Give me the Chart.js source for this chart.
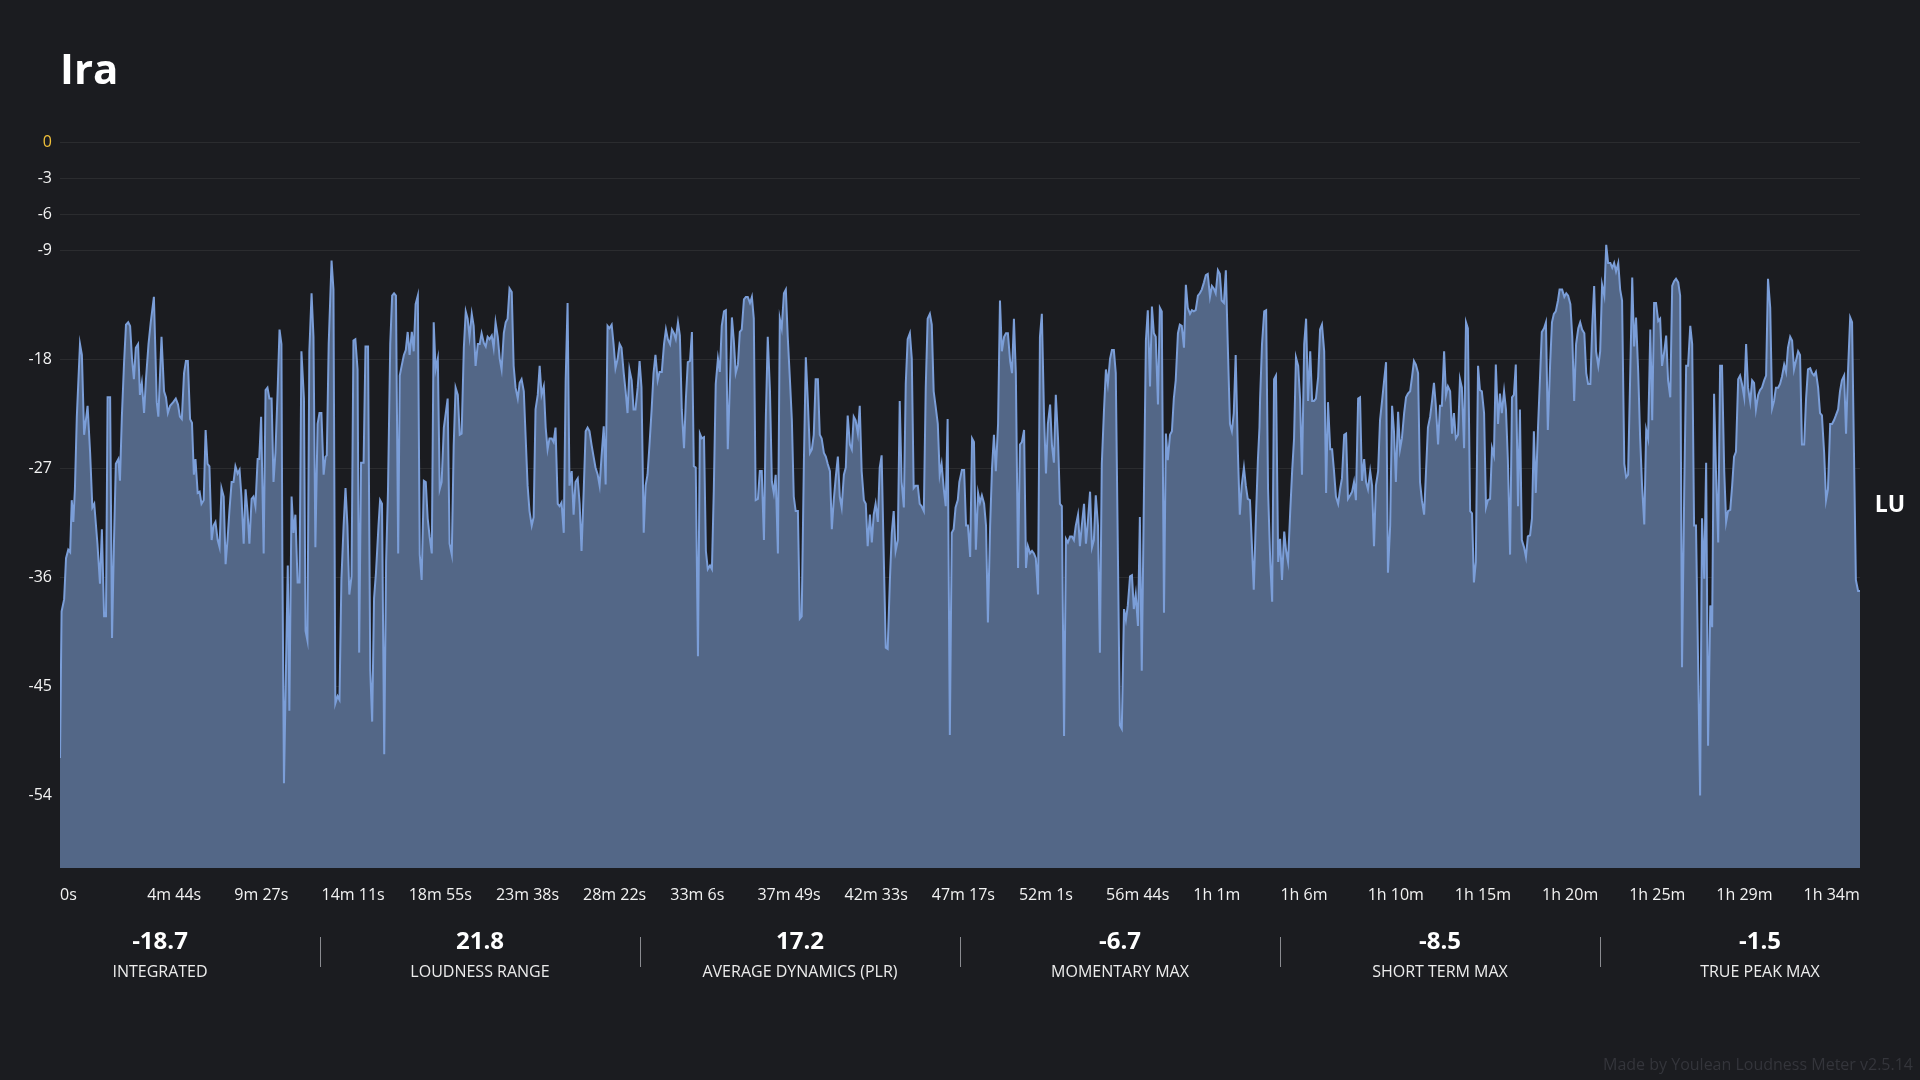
<!DOCTYPE html>
<html>
<head>
<meta charset="utf-8">
<script src="https://cdn.jsdelivr.net/npm/chart.js@4.4.1/dist/chart.umd.min.js"></script>
<style>
  body { margin: 0; background: #1b1c20; font-family: "Open Sans", "Noto Sans", sans-serif; }
  #wrap { position: relative; width: 1920px; height: 1080px; overflow: hidden; }
  #c { position: absolute; left: 0; top: 0; }
  .title { position: absolute; left: 60px; top: 43px; font-size: 42px; line-height: 50px; font-weight: 700; color: #fff; }
  .unit { position: absolute; left: 1860px; width: 60px; top: 488px; line-height: 30px; font-size: 23px; font-weight: 700; color: #fff; text-align: center; }
  .stat { position: absolute; top: 922px; width: 320px; text-align: center; color: #fff; }
  .stat .val { font-size: 24px; font-weight: 700; line-height: 36px; }
  .stat .lab { font-size: 16px; line-height: 22px; margin-top: 2px; color: #ececec; }
  .sep { position: absolute; top: 937px; width: 1px; height: 30px; background: #8a8b90; }
  .credit { position: absolute; right: 7px; top: 1053px; font-size: 16px; line-height: 22px; color: #34353b; }
</style>
</head>
<body>
<div id="wrap">
  <canvas id="c" width="1920" height="1080"></canvas>
  <div class="title">Ira</div>
  <div class="unit">LU</div>
  <div id="stats"></div>
  <div class="credit">Made by Youlean Loudness Meter v2.5.14</div>
</div>
<script>
// loudness history, [seconds, LU] in six chunks
const part1 = [[0,-50.9],[5,-38.8],[13,-37.8],[19,-34.4],[26,-33.7],[32,-33.9],[37,-29.6],[42,-31.4],[47,-28.7],[53,-22.7],[63,-16.7],[69,-17.6],[76,-24.2],[87,-21.8],[95,-25.7],[102,-30.2],[108,-29.9],[118,-33.2],[126,-36.5],[132,-32.0],[139,-39.2],[145,-39.2],[150,-21.1],[158,-21.1],[164,-41.0],[170,-33.2],[176,-26.6],[184,-26.2],[189,-28.0],[195,-22.7],[202,-18.2],[208,-15.1],[215,-14.9],[221,-15.2],[227,-17.9],[233,-19.6],[239,-17.0],[246,-16.7],[252,-20.9],[258,-19.9],[265,-22.4],[271,-19.6],[279,-16.7],[286,-14.9],[296,-12.8],[305,-21.5],[310,-22.7],[320,-16.1],[328,-20.6],[334,-21.1],[340,-22.4],[347,-21.8],[357,-21.5],[365,-21.2],[372,-21.7],[378,-22.7],[384,-22.9],[391,-19.1],[397,-18.1],[403,-18.1],[410,-22.9],[416,-23.2],[422,-27.5],[427,-26.2],[434,-29.0],[440,-28.9],[446,-29.9],[453,-29.6],[459,-23.8],[465,-26.6],[471,-26.8],[478,-32.9],[484,-31.7],[490,-31.4],[497,-32.9],[503,-33.5],[509,-28.6],[516,-29.3],[522,-34.9],[528,-32.9],[534,-30.5],[541,-28.1],[547,-28.1],[553,-26.8],[560,-27.4],[566,-27.1],[572,-29.3],[579,-33.2],[585,-28.7],[591,-30.5],[597,-33.2],[604,-29.5],[610,-29.3],[616,-30.1],[623,-26.2],[628,-26.2],[634,-22.7],[642,-34.0],[648,-20.5],[654,-20.3],[660,-21.2],[667,-21.2],[673,-28.1],[679,-25.7],[686,-20.6],[692,-15.5],[698,-16.7],[701,-34.7],[706,-53.0],[718,-35.0],[723,-47.0],[730,-29.3],[736,-32.3],[742,-30.8],[749,-36.4],[755,-36.4],[761,-17.3],[769,-21.2],[774,-40.4],[780,-41.2],[786,-17.3],[793,-12.5],[799,-16.1],[805,-33.5],[812,-23.3],[818,-22.4],[824,-22.4],[831,-27.5],[837,-26.0],[841,-25.9],[847,-16.7],[856,-9.8],[862,-12.2],[868,-46.4],[875,-45.8],[881,-46.1],[887,-36.2],[894,-31.7],[900,-28.6],[906,-31.7],[912,-37.4],[919,-35.9],[925,-16.4],[931,-16.3],[938,-18.8],[943,-42.2]];
const part2 = [[949,-26.5],[957,-26.5],[963,-16.9],[971,-16.9],[978,-43.7],[984,-47.9],[990,-37.7],[996,-35.6],[1004,-31.7],[1009,-29.6],[1015,-29.9],[1022,-50.6],[1028,-34.7],[1034,-28.7],[1041,-16.7],[1047,-12.7],[1053,-12.5],[1059,-12.7],[1066,-34.0],[1071,-19.3],[1077,-18.5],[1084,-17.6],[1090,-17.2],[1096,-15.7],[1102,-17.6],[1109,-15.7],[1115,-17.3],[1121,-13.4],[1128,-12.7],[1134,-34.1],[1140,-36.2],[1147,-28.0],[1153,-28.1],[1159,-31.1],[1165,-32.6],[1172,-34.0],[1178,-14.9],[1184,-18.8],[1191,-17.9],[1197,-28.7],[1203,-28.1],[1210,-23.6],[1216,-22.4],[1222,-21.2],[1228,-33.2],[1235,-34.1],[1241,-25.1],[1247,-20.3],[1254,-20.9],[1260,-24.2],[1266,-24.1],[1273,-17.0],[1279,-14.0],[1285,-14.6],[1291,-16.1],[1298,-14.2],[1304,-15.2],[1310,-18.5],[1317,-16.7],[1323,-16.7],[1329,-15.8],[1336,-16.6],[1342,-16.9],[1348,-16.1],[1354,-16.3],[1361,-16.0],[1367,-17.0],[1373,-14.9],[1380,-16.1],[1386,-17.9],[1392,-18.8],[1399,-15.8],[1405,-14.9],[1411,-14.6],[1417,-12.1],[1424,-12.4],[1430,-18.5],[1436,-20.3],[1443,-21.2],[1449,-19.9],[1455,-19.6],[1462,-20.6],[1468,-24.5],[1474,-28.4],[1480,-30.5],[1487,-31.7],[1493,-31.0],[1499,-22.1],[1506,-20.9],[1512,-18.5],[1518,-20.9],[1525,-20.2],[1531,-23.6],[1537,-25.4],[1543,-24.5],[1550,-24.5],[1556,-24.8],[1562,-23.6],[1569,-29.9],[1575,-30.1],[1581,-29.8],[1588,-32.3],[1594,-19.7],[1600,-13.3],[1606,-28.4],[1613,-27.2],[1619,-30.8],[1625,-28.1],[1632,-27.8],[1638,-29.9],[1644,-33.8],[1651,-28.7],[1657,-23.9],[1663,-23.6],[1669,-23.9],[1676,-25.1],[1682,-26.0],[1688,-26.9],[1695,-27.5],[1701,-28.4],[1707,-26.0],[1714,-23.5],[1720,-28.3],[1726,-15.2],[1732,-15.4],[1739,-15.1],[1745,-16.7],[1751,-18.7],[1758,-17.9],[1764,-16.7],[1770,-17.0],[1777,-19.1],[1783,-20.6],[1789,-22.4],[1795,-18.8],[1802,-19.7],[1808,-22.1],[1814,-22.1],[1821,-20.3],[1827,-18.1],[1833,-20.3],[1840,-32.3],[1846,-28.4],[1852,-27.5],[1858,-25.1],[1865,-22.1],[1871,-19.1],[1877,-17.6],[1884,-19.7],[1890,-19.0]];
const part3 = [[1897,-19.0],[1904,-16.7],[1910,-15.5],[1916,-16.3],[1923,-16.7],[1929,-15.5],[1935,-15.8],[1941,-16.3],[1948,-14.9],[1954,-16.0],[1960,-22.1],[1967,-25.3],[1973,-21.2],[1979,-18.2],[1986,-18.1],[1992,-15.7],[1998,-26.8],[2004,-26.9],[2011,-42.5],[2017,-24.1],[2023,-24.5],[2030,-24.4],[2036,-33.8],[2042,-35.3],[2049,-35.0],[2055,-35.3],[2061,-28.7],[2067,-20.0],[2074,-17.9],[2080,-19.0],[2086,-15.2],[2093,-14.0],[2099,-13.9],[2105,-25.4],[2112,-19.7],[2118,-14.5],[2124,-16.4],[2130,-19.1],[2137,-18.4],[2143,-15.7],[2149,-15.5],[2156,-13.0],[2162,-12.8],[2168,-12.8],[2175,-13.3],[2181,-12.8],[2187,-14.6],[2193,-29.6],[2200,-29.5],[2206,-27.2],[2212,-27.2],[2219,-32.9],[2225,-22.7],[2231,-16.1],[2238,-20.6],[2244,-28.1],[2250,-29.0],[2256,-27.5],[2263,-34.0],[2269,-14.6],[2275,-15.4],[2282,-12.5],[2288,-12.2],[2294,-16.1],[2301,-19.7],[2307,-23.0],[2313,-29.3],[2319,-30.5],[2326,-30.5],[2332,-39.4],[2338,-39.2],[2345,-26.3],[2351,-17.8],[2357,-21.2],[2364,-25.7],[2370,-25.4],[2376,-24.2],[2382,-19.6],[2389,-19.6],[2395,-24.2],[2401,-24.5],[2408,-25.7],[2414,-26.0],[2420,-26.6],[2427,-27.2],[2433,-32.0],[2439,-29.6],[2445,-27.8],[2452,-26.0],[2458,-29.3],[2464,-30.2],[2471,-27.5],[2477,-26.9],[2483,-22.6],[2490,-25.0],[2496,-25.4],[2502,-22.7],[2508,-23.0],[2515,-24.1],[2521,-21.8],[2527,-27.2],[2534,-29.6],[2540,-29.9],[2546,-33.4],[2553,-30.8],[2559,-33.1],[2565,-30.8],[2571,-29.9],[2578,-31.4],[2584,-26.9],[2590,-25.9],[2597,-34.7],[2603,-41.8],[2609,-41.9],[2616,-36.2],[2622,-32.3],[2628,-30.5],[2634,-33.8],[2641,-32.9],[2647,-21.4],[2653,-28.1],[2660,-30.2],[2666,-20.0],[2672,-16.3],[2679,-15.8],[2685,-17.9],[2691,-28.6],[2697,-28.4],[2704,-28.4],[2710,-29.9],[2716,-30.1],[2723,-30.5],[2729,-20.3],[2735,-14.6],[2742,-14.2],[2748,-15.1],[2754,-20.6],[2760,-21.8],[2767,-23.3],[2773,-27.5],[2779,-26.6],[2786,-28.7],[2792,-30.1],[2798,-22.9],[2805,-49.0],[2811,-32.3],[2817,-32.0],[2823,-30.2],[2830,-29.6],[2835,-28.1]];
const part4 = [[2843,-27.1],[2850,-27.1],[2856,-31.7],[2862,-31.7],[2869,-34.3],[2875,-24.5],[2881,-24.8],[2887,-33.7],[2894,-29.0],[2900,-29.8],[2906,-29.2],[2913,-29.9],[2919,-31.7],[2925,-39.7],[2932,-31.7],[2938,-26.9],[2944,-24.2],[2950,-27.2],[2957,-23.3],[2963,-13.1],[2969,-17.3],[2976,-16.1],[2982,-15.8],[2988,-15.8],[2995,-18.1],[3001,-19.1],[3007,-14.6],[3013,-19.1],[3020,-35.2],[3026,-25.0],[3032,-24.8],[3039,-23.8],[3045,-35.2],[3051,-33.4],[3058,-34.0],[3064,-33.8],[3070,-34.0],[3076,-34.4],[3083,-37.4],[3089,-16.1],[3095,-14.2],[3102,-22.7],[3108,-27.4],[3114,-23.3],[3121,-21.7],[3127,-25.1],[3133,-26.5],[3139,-20.9],[3146,-24.5],[3152,-29.9],[3158,-30.1],[3165,-49.1],[3171,-32.8],[3177,-33.1],[3184,-32.6],[3190,-32.6],[3196,-32.9],[3202,-31.7],[3209,-30.8],[3215,-33.4],[3221,-31.7],[3228,-29.9],[3234,-33.2],[3240,-31.4],[3247,-28.9],[3253,-33.5],[3259,-32.9],[3265,-29.2],[3272,-31.7],[3278,-42.2],[3284,-26.6],[3291,-22.1],[3297,-18.8],[3303,-20.0],[3310,-17.9],[3316,-17.2],[3322,-17.2],[3328,-19.1],[3335,-34.7],[3341,-48.2],[3347,-48.5],[3354,-38.6],[3360,-39.5],[3366,-38.3],[3373,-35.9],[3379,-35.8],[3385,-38.6],[3391,-37.4],[3398,-40.0],[3404,-31.0],[3410,-43.7],[3417,-28.7],[3423,-16.4],[3429,-13.9],[3436,-20.2],[3442,-13.6],[3448,-15.8],[3454,-16.1],[3461,-21.7],[3467,-13.7],[3473,-14.0],[3480,-38.9],[3486,-24.1],[3492,-26.3],[3499,-24.2],[3505,-23.9],[3511,-21.2],[3517,-19.7],[3524,-15.8],[3530,-15.1],[3536,-15.2],[3543,-17.0],[3549,-11.8],[3555,-13.7],[3562,-14.2],[3568,-13.9],[3574,-14.0],[3580,-13.9],[3587,-12.7],[3593,-12.5],[3599,-12.2],[3606,-11.6],[3612,-11.0],[3618,-10.9],[3625,-12.8],[3631,-11.9],[3637,-12.1],[3643,-12.5],[3650,-10.6],[3656,-10.9],[3662,-13.1],[3669,-13.3],[3675,-10.6],[3681,-16.7],[3688,-23.3],[3694,-23.9],[3700,-22.4],[3706,-17.6],[3713,-25.7],[3719,-30.8],[3725,-28.4],[3732,-26.9],[3738,-28.4],[3744,-29.5],[3751,-29.6],[3757,-33.2],[3763,-37.0],[3769,-31.7],[3776,-26.3],[3781,-23.6]];
const part5 = [[3783,-21.2],[3789,-16.7],[3796,-14.0],[3802,-13.9],[3808,-28.7],[3815,-34.7],[3821,-38.0],[3827,-19.6],[3833,-19.3],[3840,-34.7],[3846,-32.8],[3852,-36.2],[3859,-32.2],[3865,-33.8],[3871,-34.7],[3878,-30.5],[3884,-27.2],[3890,-24.5],[3896,-17.8],[3903,-18.5],[3909,-21.2],[3915,-27.5],[3922,-16.7],[3928,-14.6],[3934,-21.4],[3941,-17.3],[3947,-21.4],[3953,-21.4],[3959,-21.2],[3966,-19.4],[3972,-15.5],[3978,-15.1],[3985,-17.3],[3991,-29.0],[3997,-21.5],[4004,-25.4],[4010,-25.4],[4016,-27.2],[4022,-29.3],[4029,-29.9],[4035,-28.7],[4041,-27.8],[4048,-24.2],[4054,-24.1],[4060,-29.5],[4067,-29.2],[4073,-28.9],[4079,-28.1],[4085,-29.6],[4092,-21.2],[4098,-21.1],[4104,-28.0],[4111,-26.2],[4117,-28.1],[4123,-28.7],[4130,-27.2],[4136,-28.4],[4142,-33.4],[4148,-28.4],[4155,-27.2],[4161,-23.0],[4167,-21.5],[4174,-19.7],[4180,-18.2],[4186,-35.6],[4193,-31.7],[4199,-21.8],[4205,-23.9],[4211,-28.1],[4218,-22.3],[4224,-25.4],[4230,-24.5],[4237,-22.4],[4243,-21.1],[4249,-20.8],[4256,-20.6],[4262,-19.4],[4268,-18.1],[4274,-18.4],[4281,-19.1],[4287,-28.1],[4293,-29.6],[4300,-30.8],[4306,-27.2],[4312,-23.6],[4319,-22.7],[4325,-21.4],[4331,-19.9],[4337,-21.8],[4344,-25.0],[4350,-21.8],[4356,-21.8],[4363,-17.3],[4369,-20.9],[4375,-20.2],[4382,-20.6],[4388,-24.1],[4394,-22.4],[4400,-24.5],[4407,-24.2],[4413,-19.6],[4419,-20.3],[4426,-25.3],[4432,-14.9],[4438,-15.4],[4445,-30.5],[4451,-30.7],[4457,-36.4],[4463,-34.7],[4470,-18.5],[4476,-20.5],[4482,-20.6],[4489,-22.4],[4495,-30.2],[4501,-29.6],[4508,-29.5],[4514,-25.3],[4520,-25.9],[4526,-18.4],[4533,-23.3],[4539,-20.8],[4545,-22.4],[4552,-20.6],[4558,-22.1],[4564,-26.3],[4571,-34.1],[4577,-21.1],[4583,-20.9],[4589,-18.4],[4596,-30.1],[4602,-22.1],[4608,-32.9],[4615,-33.5],[4621,-34.3],[4627,-32.6],[4634,-32.5],[4640,-31.1],[4646,-23.9],[4652,-29.0],[4659,-23.6],[4665,-19.7],[4671,-15.7],[4678,-15.4],[4684,-14.9],[4690,-23.8],[4697,-18.5],[4703,-14.9],[4709,-14.2],[4715,-14.0],[4722,-13.1],[4727,-12.2]];
const part6 = [[4735,-12.2],[4742,-12.8],[4748,-12.5],[4754,-12.7],[4761,-13.4],[4767,-16.1],[4773,-21.4],[4779,-16.7],[4786,-15.4],[4792,-14.9],[4798,-15.5],[4805,-15.8],[4811,-19.1],[4817,-20.0],[4824,-20.0],[4830,-15.2],[4836,-11.9],[4842,-17.3],[4849,-18.5],[4855,-17.3],[4861,-11.8],[4868,-12.7],[4874,-8.5],[4880,-10.0],[4887,-10.0],[4893,-10.4],[4899,-10.0],[4905,-10.7],[4912,-10.0],[4918,-12.2],[4924,-13.1],[4931,-26.6],[4937,-27.7],[4943,-27.5],[4950,-18.8],[4956,-11.2],[4962,-16.9],[4968,-14.5],[4975,-19.1],[4981,-24.5],[4987,-28.4],[4994,-31.6],[5000,-23.8],[5006,-24.5],[5013,-15.5],[5019,-23.0],[5025,-13.3],[5031,-13.3],[5038,-14.8],[5044,-14.6],[5050,-18.5],[5057,-17.3],[5063,-16.0],[5069,-19.7],[5076,-21.1],[5082,-11.9],[5088,-11.5],[5094,-11.3],[5101,-11.6],[5107,-12.7],[5113,-43.4],[5120,-28.7],[5126,-18.5],[5132,-18.5],[5139,-15.2],[5145,-16.7],[5151,-31.7],[5157,-31.7],[5164,-43.7],[5170,-54.0],[5176,-31.1],[5183,-36.1],[5189,-26.5],[5195,-49.9],[5202,-38.3],[5208,-40.1],[5214,-20.8],[5220,-27.2],[5227,-33.1],[5233,-18.5],[5239,-18.5],[5246,-27.2],[5252,-31.4],[5258,-30.5],[5265,-30.4],[5271,-28.4],[5277,-26.0],[5283,-25.6],[5290,-19.6],[5296,-19.3],[5302,-20.0],[5309,-21.1],[5315,-16.7],[5321,-20.3],[5328,-21.5],[5334,-19.7],[5340,-19.9],[5346,-22.1],[5353,-20.9],[5359,-20.5],[5365,-20.3],[5372,-19.7],[5378,-19.3],[5384,-11.3],[5391,-13.7],[5397,-22.0],[5403,-21.4],[5409,-20.3],[5416,-20.3],[5422,-20.0],[5428,-19.4],[5435,-18.4],[5441,-19.0],[5447,-17.0],[5454,-16.1],[5460,-16.4],[5466,-18.8],[5472,-18.1],[5479,-17.3],[5485,-17.6],[5491,-25.0],[5498,-25.0],[5504,-21.2],[5510,-18.8],[5517,-18.7],[5523,-19.1],[5529,-19.3],[5535,-19.0],[5542,-20.3],[5548,-22.4],[5554,-22.6],[5561,-25.7],[5567,-29.6],[5573,-28.7],[5580,-23.3],[5586,-23.3],[5592,-23.0],[5598,-22.6],[5605,-22.1],[5611,-20.6],[5617,-19.7],[5624,-19.3],[5630,-24.1],[5636,-19.1],[5643,-14.5],[5649,-14.9],[5655,-25.7],[5661,-36.2],[5668,-37.1],[5674,-37.1]];

const totalSeconds = 5674;
const yTicks = [0, -3, -6, -9, -18, -27, -36, -45, -54];
const xTickLabels = ["0s", "4m 44s", "9m 27s", "14m 11s", "18m 55s", "23m 38s", "28m 22s", "33m 6s", "37m 49s", "42m 33s", "47m 17s", "52m 1s", "56m 44s", "1h 1m", "1h 6m", "1h 10m", "1h 15m", "1h 20m", "1h 25m", "1h 29m", "1h 34m"];
const statValues = ["-18.7", "21.8", "17.2", "-6.7", "-8.5", "-1.5"];
const statLabels = ["INTEGRATED", "LOUDNESS RANGE", "AVERAGE DYNAMICS (PLR)", "MOMENTARY MAX", "SHORT TERM MAX", "TRUE PEAK MAX"];

// stats row under the chart
const stats = document.getElementById("stats");
statValues.forEach((v, i) => {
  const col = document.createElement("div");
  col.className = "stat";
  col.style.left = (i * 320) + "px";
  col.innerHTML = `<div class="val">${v}</div><div class="lab">${statLabels[i]}</div>`;
  stats.appendChild(col);
  if (i > 0) {
    const sep = document.createElement("div");
    sep.className = "sep";
    sep.style.left = (i * 320) + "px";
    stats.appendChild(sep);
  }
});

const points = [part1, part2, part3, part4, part5, part6].flat().map(p => ({ x: p[0], y: p[1] }));

Chart.defaults.font.family = "'Open Sans', 'Noto Sans', sans-serif";
Chart.defaults.font.size = 16;

// the meter starts each time label at i/20.6 of the width, left aligned
const labelStep = 274.8;

new Chart(document.getElementById("c"), {
  type: "line",
  data: {
    datasets: [{
      data: points,
      borderColor: "#7b9ed8",
      backgroundColor: "#536787",
      borderWidth: 2,
      pointRadius: 0,
      tension: 0,
      fill: "start"
    }]
  },
  options: {
    responsive: false,
    animation: false,
    events: [],
    layout: { padding: { top: 142, right: 60, bottom: 172, left: 0 } },
    plugins: { legend: { display: false }, tooltip: { enabled: false } },
    scales: {
      x: {
        type: "linear",
        min: 0,
        max: totalSeconds,
        z: 1,
        grid: { display: false },
        border: { display: false },
        afterBuildTicks: (scale) => {
          scale.ticks = xTickLabels.map((_, i) => ({ value: labelStep * i }));
        },
        afterFit: (scale) => { scale.height = 40; },
        ticks: {
          autoSkip: false,
          maxRotation: 0,
          align: "start",
          padding: 10,
          color: "#f2f2f2",
          callback: (value, index) => xTickLabels[index]
        }
      },
      y: {
        min: -60,
        max: 0,
        z: 1,
        border: { display: false },
        grid: { color: "rgba(255,255,255,0.07)", drawTicks: false },
        afterBuildTicks: (scale) => {
          scale.ticks = yTicks.map(v => ({ value: v }));
        },
        afterFit: (scale) => { scale.width = 60; },
        ticks: {
          padding: 8,
          color: (ctx) => ctx.tick && ctx.tick.value === 0 ? "#f0c03a" : "#f2f2f2",
          callback: (value) => String(value)
        }
      }
    }
  }
});
</script>
</body>
</html>
